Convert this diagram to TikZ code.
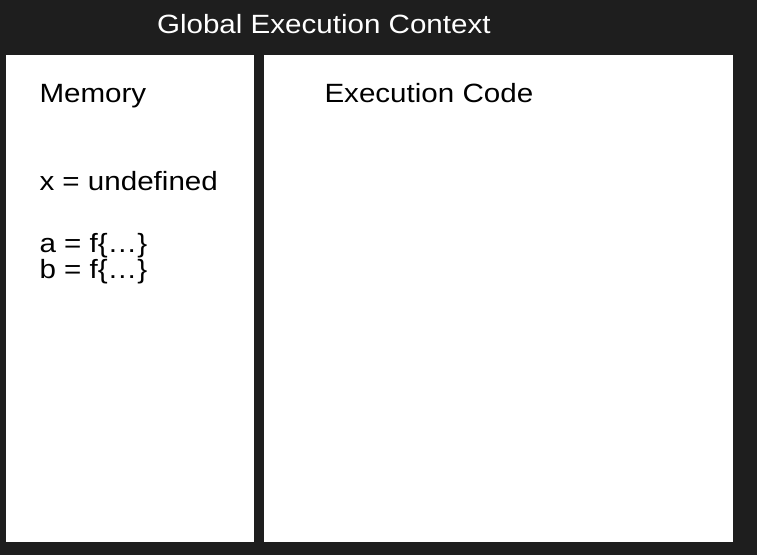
\documentclass[tikz,border=0pt]{standalone}
\usepackage{fontspec}
\setmainfont{Liberation Sans}[FakeStretch=1.12]
\definecolor{bgdark}{RGB}{30,30,30}
\tikzset{
  lbl/.style={anchor=base west, inner sep=0pt, outer sep=0pt, font=\fontsize{26.4}{27}\selectfont},
}
\begin{document}
\begin{tikzpicture}[x=1pt,y=-1pt]
  \fill[bgdark] (0,0) rectangle (757,555);
  \useasboundingbox (0,0) rectangle (757,555);
  \fill[white] (6,55) rectangle (254,542);
  \fill[white] (264,55) rectangle (733,542);
  \node[lbl, text=white] (title) at (157,33.3) {Global Execution Context};
  \node[lbl] (mem) at (39.5,102) {Memory};
  \node[lbl] (exec) at (324.5,102) {Execution Code};
  \node[lbl] (x) at (39.5,190) {x = undefined};
  \node[lbl] (a) at (39.5,252) {a = f\{…\}};
  \node[lbl] (b) at (39.5,278.5) {b = f\{…\}};
\end{tikzpicture}
\end{document}
